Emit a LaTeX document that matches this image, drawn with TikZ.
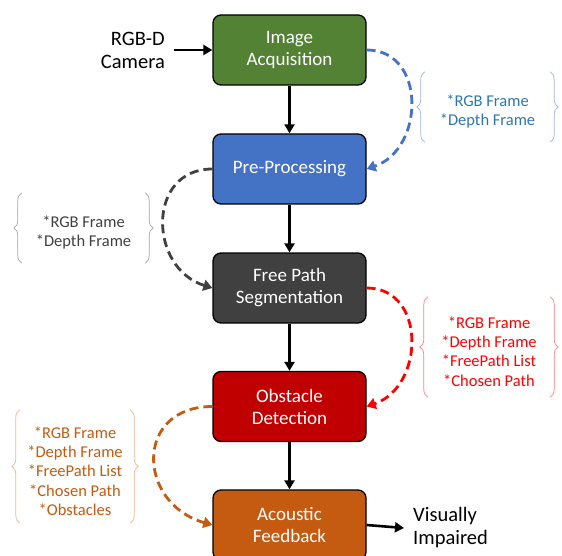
\documentclass[tikz,border=0pt]{standalone}
\usepackage{fontspec}
\setmainfont{Carlito}
\usetikzlibrary{arrows.meta, decorations.pathreplacing}
\definecolor{accgreen}{HTML}{548235}
\definecolor{accblue}{HTML}{4472C4}
\definecolor{accgrey}{HTML}{404040}
\definecolor{accred}{HTML}{C00000}
\definecolor{accorange}{HTML}{C55A11}
\definecolor{txtblue}{HTML}{2E75B6}
\definecolor{brblue}{HTML}{9DB5D6}
\definecolor{brgrey}{HTML}{A6A6A6}
\definecolor{txtred}{HTML}{FF0000}
\definecolor{brred}{HTML}{FF8080}
\definecolor{brorange}{HTML}{F0B38A}
\tikzset{
    normal/.style={draw, line width=1.3pt},
    blk/.style={style=normal, rounded corners=8pt, minimum width=153pt, minimum height=70pt, align=center, text=white, font=\fontsize{19}{22}\selectfont},
    io/.style={font=\fontsize{20.5}{23}\selectfont, inner xsep=9pt},
    e/.style={line width=2.6pt, -{Triangle[length=9pt,width=10pt]}},
    de/.style={line width=2.8pt, dash pattern=on 9pt off 5pt, -{Triangle[length=9pt,width=11pt]}},
    info/.style={align=center, inner sep=0pt, font=\fontsize{16.5}{19.3}\selectfont}, % text inside the braces
    br/.style={line width=0.7pt, decorate, decoration={brace, amplitude=8pt}, transform canvas={yshift=4.5pt}}
}

\begin{document}
\begin{tikzpicture}[x=1pt, y=-1pt]
    \useasboundingbox (0,0) rectangle (562,556);

    \node[blk, fill=accgreen] (IA) at (289.5,50) {Image\\Acquisition};
    \node[blk, fill=accblue] (PP) at (289.5,169) {Pre-Processing};
    \node[blk, fill=accgrey] (FP) at (289.5,288) {Free Path\\Segmentation};
    \node[blk, fill=accred] (OD) at (289.5,406.5) {Obstacle\\Detection};
    \node[blk, fill=accorange] (AF) at (289.5,525) {Acoustic\\Feedback};

    \node[io, anchor=east, align=right] (CAM) at (174,50) {RGB-D\\Camera};
    \node[io, anchor=west, align=left] (VI) at (404,528) {Visually\\Impaired};

    \draw[e] (CAM.east) -- (CAM.east -| IA.west);
    \draw[e] (IA) -- (PP);
    \draw[e] (PP) -- (FP);
    \draw[e] (FP) -- (OD);
    \draw[e] (OD) -- (AF);
    \draw[e] (AF.east) -- (VI.west);

    \draw[de, accblue] (IA.east) .. controls +(60,0) and +(58,-20) .. (PP.east);
    \draw[de, accgrey] (PP.west) .. controls +(-66,0) and +(-64,-20) .. (FP.west);
    \draw[de, txtred] (FP.east) .. controls +(60,0) and +(58,-20) .. (OD.east);
    \draw[de, accorange] (OD.west) .. controls +(-78,0) and +(-76,-22) .. (AF.west);

    \node[info, text=txtblue, minimum width=125pt, minimum height=70pt] (BB) at (487.5,111.5) {*RGB Frame\\*Depth Frame};
    \draw[br, brblue] (BB.south west) -- (BB.north west);
    \draw[br, brblue] (BB.north east) -- (BB.south east);

    \node[info, text=accgrey, minimum width=123pt, minimum height=70pt] (BG) at (83.5,232.5) {*RGB Frame\\*Depth Frame};
    \draw[br, brgrey] (BG.south west) -- (BG.north west);
    \draw[br, brgrey] (BG.north east) -- (BG.south east);

    \node[info, text=txtred, minimum width=122pt, minimum height=100pt] (BR) at (489,351.5) {*RGB Frame\\*Depth Frame\\*FreePath List\\*Chosen Path};
    \draw[br, brred] (BR.south west) -- (BR.north west);
    \draw[br, brred] (BR.north east) -- (BR.south east);

    \node[info, text=accorange, minimum width=110pt, minimum height=113pt] (BO) at (75,471) {*RGB Frame\\*Depth Frame\\*FreePath List\\*Chosen Path\\*Obstacles};
    \draw[br, brorange] (BO.south west) -- (BO.north west);
    \draw[br, brorange] (BO.north east) -- (BO.south east);
\end{tikzpicture}
\end{document}
